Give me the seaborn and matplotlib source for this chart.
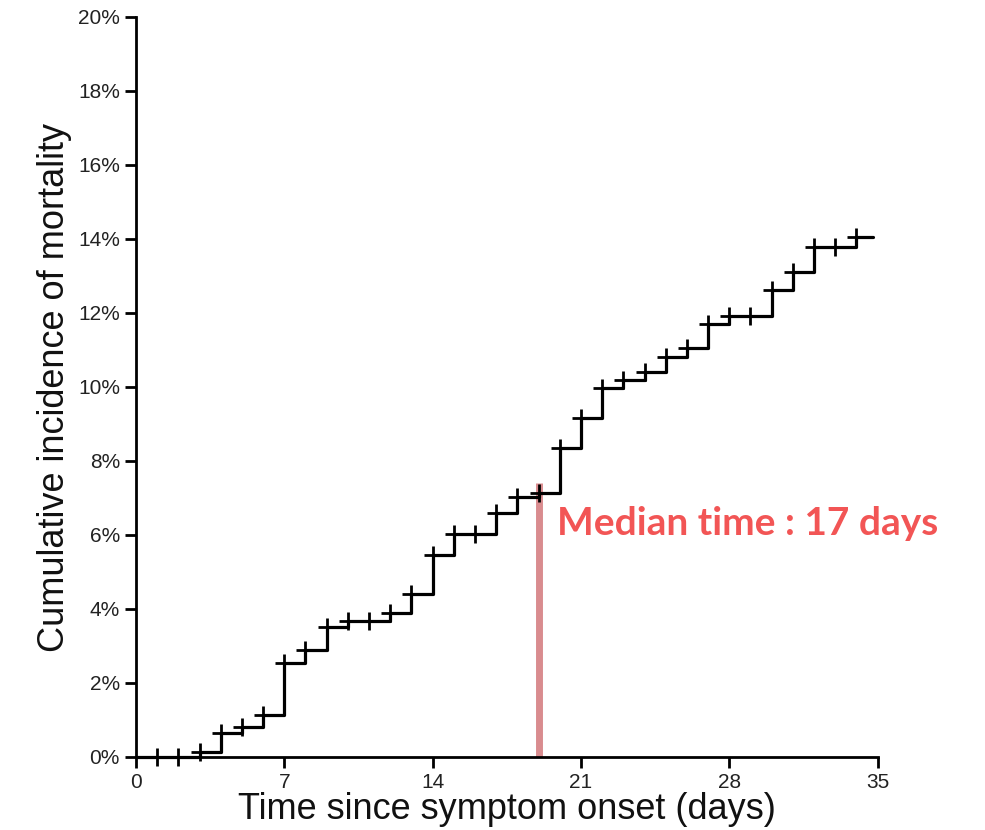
import numpy as np
import pandas as pd
import seaborn as sns
import matplotlib.pyplot as plt

# 阶梯曲线数据
event_days = [0, 3, 4, 5, 6, 7, 8, 9, 10, 12, 13, 14, 15, 17, 18, 19, 20,
              21, 22, 23, 24, 25, 26, 27, 28, 30, 31, 32, 34]
incidence = [0, 0.14, 0.64, 0.82, 1.13, 2.55, 2.89, 3.52, 3.67, 3.88, 4.40,
             5.46, 6.03, 6.59, 7.02, 7.14, 8.35, 9.16, 9.97, 10.19, 10.40,
             10.82, 11.05, 11.69, 11.92, 12.62, 13.10, 13.77, 14.04]
last_followup = 34.8

# 删失标记
censor_days = [1, 2, 3, 4, 5, 6, 7, 8, 9, 10, 11, 12, 13, 14, 15, 16, 17,
               18, 19, 20, 21, 22, 23, 24, 25, 26, 27, 28, 29, 30, 31, 32,
               33, 34]

median_x = 19
median_top = 7.4
median_label = "Median time : 17 days"

x_ticks = [0, 7, 14, 21, 28, 35]
y_ticks = list(range(0, 21, 2))

curve = pd.DataFrame({
    "day": event_days + [last_followup],
    "inc": incidence + [incidence[-1]],
})
idx = np.searchsorted(event_days, censor_days, side="right") - 1
censor = pd.DataFrame({"day": censor_days,
                       "inc": np.array(incidence)[idx]})

sns.set_style("ticks")
plt.rcParams["font.family"] = ["Liberation Sans", "DejaVu Sans"]

fig = plt.figure(figsize=(9.85, 8.3), dpi=100)
ax = fig.add_axes([0.138, 0.088, 0.753, 0.8916])

sns.lineplot(data=curve, x="day", y="inc", ax=ax, color="black",
             linewidth=2.3, drawstyle="steps-post", zorder=3)
sns.scatterplot(data=censor, x="day", y="inc", ax=ax, marker="+",
                color="black", s=150, linewidth=2, zorder=4)

ax.vlines(median_x, 0, median_top, color="#d98c8f", linewidth=5, zorder=2)
ax.text(median_x + 0.85, 6.32, median_label, color="#f25555",
        fontsize=28, fontweight="bold", family=["Lato", "DejaVu Sans"],
        va="center", ha="left")

ax.set_xlim(0, 35)
ax.set_ylim(0, 20)
ax.set_xticks(x_ticks)
ax.set_yticks(y_ticks)
ax.set_yticklabels([f"{v}%" for v in y_ticks])
ax.tick_params(axis="both", labelsize=15, width=2, length=8,
               direction="out", color="black", labelcolor="#222222")
ax.set_xlabel("Time since symptom onset (days)", fontsize=26, labelpad=0,
              color="#111111")
ax.set_ylabel("Cumulative incidence of mortality", fontsize=26, labelpad=4,
              color="#111111")

for s in ["top", "right"]:
    ax.spines[s].set_visible(False)
for s in ["left", "bottom"]:
    ax.spines[s].set_linewidth(2)
    ax.spines[s].set_color("black")
ax.spines["bottom"].set_zorder(5)
for c in ax.collections + ax.lines:
    c.set_clip_on(False)

fig.savefig("out.png", dpi=100)
